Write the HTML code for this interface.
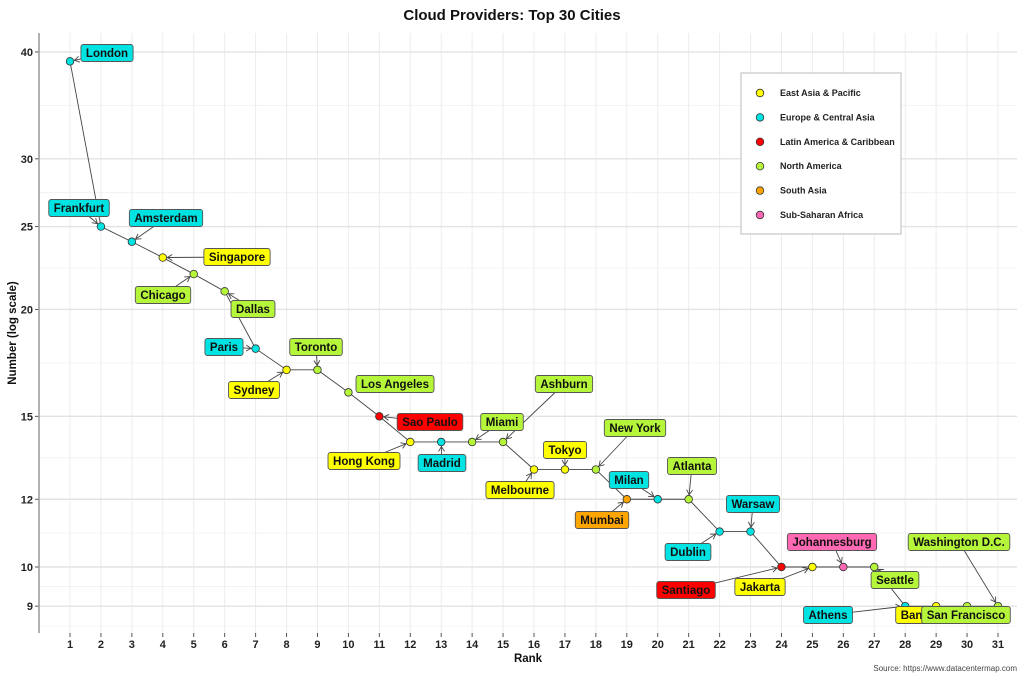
<!DOCTYPE html>
<html><head><meta charset="utf-8"><style>
body{margin:0;background:#fff;}
svg{display:block;font-family:"Liberation Sans",sans-serif;}
</style></head><body>
<svg id="s" width="1024" height="679" xmlns="http://www.w3.org/2000/svg"></svg>
<script>
const s=document.getElementById('s');
let h='';
const X=r=>70+(r-1)*(928/30);
const Y=v=>567-(Math.log10(v)-1)*855.5;
const maj=[40,30,25,20,15,12,10,9];
const majY=maj.map(Y);
const minY=[];
for(let i=0;i<majY.length-1;i++)minY.push((majY[i]+majY[i+1])/2);
minY.push(626);
minY.forEach(y=>h+=`<line x1="39" x2="1017" y1="${y}" y2="${y}" stroke="#f0f0f0" stroke-width="0.8"/>`);
for(let r=1;r<=31;r++){h+=`<line x1="${X(r)}" x2="${X(r)}" y1="33" y2="633" stroke="#ececec" stroke-width="1"/>`;
h+=`<line x1="${X(r)}" x2="${X(r)}" y1="633" y2="637" stroke="#555"/>`;
h+=`<text x="${X(r)}" y="648" font-size="11" font-weight="bold" text-anchor="middle" fill="#222">${r}</text>`;}
maj.forEach((v,i)=>{const y=majY[i];h+=`<line x1="39" x2="1017" y1="${y}" y2="${y}" stroke="#e3e3e3" stroke-width="1.4"/>`;
h+=`<line x1="35" x2="39" y1="${y}" y2="${y}" stroke="#555"/>`;
h+=`<text x="33" y="${y+4}" font-size="11" font-weight="bold" text-anchor="end" fill="#222">${v}</text>`;});
h+='<line x1="39" x2="39" y1="33" y2="633" stroke="#999" stroke-width="1.5"/>';
h+='<text x="512" y="20" font-size="15" font-weight="bold" text-anchor="middle" fill="#111">Cloud Providers: Top 30 Cities</text>';
h+='<text x="528" y="662" font-size="11.5" font-weight="bold" text-anchor="middle" fill="#111">Rank</text>';
h+='<text transform="translate(16,333) rotate(-90)" font-size="11.5" font-weight="bold" text-anchor="middle" fill="#111">Number (log scale)</text>';
h+='<text x="1017" y="671" font-size="8" text-anchor="end" fill="#444">Source: https://www.datacentermap.com</text>';
const C={E:'#ffff00',U:'#00e3e3',L:'#ff0000',N:'#b5f53a',S:'#ffa500',A:'#ff69b4'};
const d=[[1,'London',39,'U',107,53],[2,'Frankfurt',25,'U',79,208],[3,'Amsterdam',24,'U',166,218],[4,'Singapore',23,'E',237,257],
[5,'Chicago',22,'N',163,295],[6,'Dallas',21,'N',253,309],[7,'Paris',18,'U',224,347],[8,'Sydney',17,'E',254,390],[9,'Toronto',17,'N',316,347],
[10,'Los Angeles',16,'N',395,384],[11,'Sao Paulo',15,'L',430,422],[12,'Hong Kong',14,'E',364,461],[13,'Madrid',14,'U',442,463],
[14,'Miami',14,'N',502,422],[15,'Ashburn',14,'N',564,384],[16,'Melbourne',13,'E',520,490],[17,'Tokyo',13,'E',565,450],
[18,'New York',13,'N',635,428],[19,'Mumbai',12,'S',602,520],[20,'Milan',12,'U',629,480],[21,'Atlanta',12,'N',692,466],
[22,'Dublin',11,'U',688,552],[23,'Warsaw',11,'U',753,504],[24,'Santiago',10,'L',686,590],[25,'Jakarta',10,'E',760,587],
[26,'Johannesburg',10,'A',832,542],[27,'Seattle',10,'N',895,580],[28,'Athens',9,'U',828,615],[29,'Bangkok',9,'E',925,615],
[30,'San Francisco',9,'N',966,615],[31,'Washington D.C.',9,'N',959,542]];
// measure text
const m=document.createElementNS('http://www.w3.org/2000/svg','text');
m.setAttribute('font-size','11.5');m.setAttribute('font-weight','bold');s.appendChild(m);
const widths=d.map(p=>{m.textContent=p[1];return m.getComputedTextLength();});
s.removeChild(m);
h+='<polyline fill="none" stroke="#444" stroke-width="0.9" points="'+d.map(p=>X(p[0])+','+Y(p[2])).join(' ')+'"/>';
const boxes=d.map((p,i)=>{const w=widths[i]+10;return {x:p[4]-w/2,y:p[5]-8.5,w:w,h:17};});
d.forEach((p,i)=>{const b=boxes[i];const px=X(p[0]),py=Y(p[2]);const cx=p[4],cy=p[5];
let dx=px-cx,dy=py-cy;const tx=dx?Math.abs((b.w/2)/dx):1e9,ty=dy?Math.abs((b.h/2)/dy):1e9;const t=Math.min(tx,ty);
const sx=cx+dx*t,sy=cy+dy*t;const L=Math.hypot(px-sx,py-sy);if(L<8)return;
const ux=(px-sx)/L,uy=(py-sy)/L;const ex=px-ux*4.5,ey=py-uy*4.5;
h+=`<line x1="${sx}" y1="${sy}" x2="${ex}" y2="${ey}" stroke="#444" stroke-width="0.9"/>`;
const ax=-uy,ay=ux;h+=`<polyline fill="none" stroke="#444" stroke-width="0.9" points="${ex-ux*5+ax*3},${ey-uy*5+ay*3} ${ex},${ey} ${ex-ux*5-ax*3},${ey-uy*5-ay*3}"/>`;});
d.forEach(p=>h+=`<circle cx="${X(p[0])}" cy="${Y(p[2])}" r="3.8" fill="${C[p[3]]}" stroke="#333" stroke-width="0.8"/>`);
d.forEach((p,i)=>{const b=boxes[i];h+=`<rect x="${b.x}" y="${b.y}" width="${b.w}" height="${b.h}" rx="2.5" fill="${C[p[3]]}" stroke="#555" stroke-width="0.9"/>`;
h+=`<text x="${p[4]}" y="${p[5]+4.2}" font-size="11.5" font-weight="bold" text-anchor="middle" fill="#111">${p[1]}</text>`;});
h+='<rect x="741" y="73" width="160" height="161" fill="#fff" stroke="#bbb"/>';
[['East Asia & Pacific','E'],['Europe & Central Asia','U'],['Latin America & Caribbean','L'],['North America','N'],['South Asia','S'],['Sub-Saharan Africa','A']].forEach((l,i)=>{
const y=93+i*24.4;h+=`<circle cx="760" cy="${y}" r="3.8" fill="${C[l[1]]}" stroke="#333" stroke-width="0.8"/>`;
h+=`<text x="780" y="${y+3}" font-size="9" font-weight="bold" fill="#222">${l[0].replace('&','&amp;')}</text>`;});
s.innerHTML=h;
</script>
</body></html>
